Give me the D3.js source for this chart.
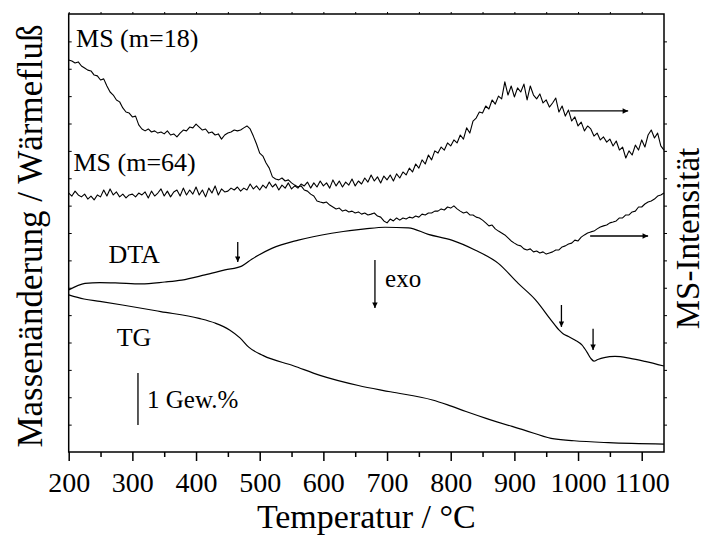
<!DOCTYPE html>
<html><head><meta charset="utf-8">
<script src="https://cdn.jsdelivr.net/npm/d3@7"></script>
<style>
body{margin:0;background:#fff}
svg{display:block}
text{font-family:"Liberation Serif","Times New Roman",serif;fill:#000}
</style>
</head><body><svg id="c" width="707" height="536"></svg>
<script>
// ---------- data (temperature in °C, signals in arbitrary units) ----------
const tempMS = d3.range(200, 1136, 5);
const ms18 = [143.2,142.8,142.1,142.5,141.0,140.3,139.5,139.2,137.7,137.4,135.9,136.3,133.7,131.5,130.4,128.6,127.9,125.7,124.2,123.8,
122.4,122.7,119.5,118.0,117.3,118.0,116.9,117.3,116.5,116.9,116.2,117.3,115.8,116.2,115.1,116.5,117.6,117.3,118.7,118.4,
119.8,118.7,117.6,118.0,116.5,116.9,115.8,116.2,114.3,115.8,116.5,116.9,117.6,117.3,117.6,118.4,119.1,118.0,115.4,112.5,
109.2,108.1,105.6,103.7,100.5,99.7,99.4,100.1,99.0,99.4,98.3,97.5,96.8,97.2,95.7,95.3,94.2,93.5,91.7,91.3,
91.0,91.3,90.2,89.5,88.8,89.1,88.0,88.4,87.7,88.0,87.3,87.7,86.9,87.3,86.6,86.9,87.3,86.2,85.8,84.4,
83.7,85.1,84.4,85.5,84.7,85.5,85.1,85.8,85.5,86.2,85.8,86.9,86.6,87.3,87.3,88.0,88.0,88.8,88.4,89.5,
89.1,89.9,88.8,88.0,87.3,87.7,86.6,86.6,85.8,85.5,84.7,83.7,82.6,82.9,81.5,80.7,80.0,79.3,78.2,77.1,
76.3,75.6,75.3,74.2,73.8,74.2,73.1,73.4,72.7,73.1,72.3,72.7,73.1,73.8,73.8,74.9,75.3,76.0,76.3,77.4,
77.1,78.5,79.3,80.0,80.4,80.7,81.5,82.2,82.6,82.9,83.7,84.0,84.4,85.5,85.5,86.6,86.6,87.7,88.0,89.5,
89.5,90.6,91.3,91.7,92.4,93.5,93.9,94.6];
const ms64 = [94.6,93.5,95.3,93.9,93.2,94.2,92.4,93.5,92.1,93.9,93.2,95.7,93.5,96.1,93.9,95.0,93.2,94.2,92.8,93.9,
94.2,93.2,94.6,93.9,95.0,92.8,95.3,93.5,94.6,96.1,93.5,95.3,93.2,95.0,95.7,93.5,96.4,93.9,95.7,94.2,
96.8,93.9,95.7,93.2,96.4,94.6,97.2,93.9,96.1,95.0,95.3,96.4,95.7,96.8,95.3,96.4,95.7,97.9,96.1,97.2,
95.7,97.5,96.4,98.6,96.8,97.9,95.7,97.5,96.4,98.3,96.1,97.2,96.4,97.9,97.2,98.6,96.4,98.3,96.8,99.0,
97.2,98.3,96.4,99.4,97.2,99.0,96.8,98.6,97.5,99.7,97.2,99.0,97.9,100.1,98.6,101.2,99.0,100.5,98.3,100.8,
99.4,101.2,99.0,101.6,100.1,102.3,101.2,103.7,102.3,105.2,103.7,106.7,105.2,108.5,106.7,110.0,109.2,111.4,110.3,112.9,
111.8,114.0,112.9,115.8,114.3,118.4,116.5,120.9,122.0,124.2,123.8,126.4,125.3,128.6,127.1,130.0,129.0,135.2,130.4,133.7,
129.7,133.0,131.5,134.4,128.6,133.7,130.4,129.0,130.8,127.5,128.6,126.0,127.5,129.3,124.2,126.4,122.7,124.9,120.9,122.4,
119.1,120.5,117.3,119.1,118.0,115.4,116.5,114.0,115.1,113.2,114.3,111.8,113.6,110.3,111.4,107.4,110.0,108.5,112.1,110.3,
114.0,111.4,115.8,117.6,114.7,116.5,111.8,110.3];
const dtaT = [200,225.6,249,273,314,351,377.5,414,445.5,471.7,487.4,519,560.6,613,665.4,696.8,733.4,764.8,801.6,838,
874.8,906,933.5,957.6,970,977,985,995,1006,1014,1020,1025,1031,1041,1058,1082,1105,1135];
const dtaV = [59.2,61.6,61.9,61.8,61.4,62.1,62.8,64.7,66.5,67.9,70.4,74.4,77.4,79.9,81.5,82.1,81.9,79.5,77.4,73.8,
68.9,61.6,55.5,48.2,44.6,43.1,42.2,40.9,39.1,36.5,34.2,33.2,33.8,34.5,34.9,34.2,33.1,31.4];
const tgT = [200,224,249,284.3,344.5,404.7,429.8,452.7,469,482.7,505.7,552.8,594.7,654.9,705.1,771.3,795.3,824,855.5,915.5,
957.6,993.6,1047.7,1135];
const tgV = [57.4,55.9,55.0,53.7,51.3,48.8,47.1,44.6,41.7,38.3,35.2,31.5,28.0,24.3,22.0,19.0,17.2,14.8,12.3,8.0,
5.0,4.1,3.4,2.9];
const xTicks = d3.range(200, 1101, 50);
const xTickLabels = [200,300,400,500,600,700,800,900,1000,1100];
const yTicks = d3.range(10, 151, 10);
// annotations [T, value]
const dtaMarks = [[465.5, 76.7, 69.4],[973.9, 53.7, 45.7],[1023.6, 45.0, 37.3]];
const exoArrow = [681, 70.1, 52.6];
const msArrows = [[987.6, 1078.7, 124.6],[1019, 1110, 78.9]];
const scaleBar = [308.8, 28.9, 9.9];
const labels = [
  {t:"MS (m=18)", T:211.5, v:148.1, s:26},
  {t:"MS (m=64)", T:207.5, v:102.5, s:26},
  {t:"DTA", T:262.5, v:68.9, s:26},
  {t:"TG", T:275.4, v:38.7, s:26},
  {t:"1 Gew.%", T:323, v:16.1, s:25},
  {t:"exo", T:696.9, v:60.3, s:25}
];

// ---------- drawing ----------
const svg = d3.select("#c");
const x = d3.scaleLinear().domain([200, 1135]).range([68.7, 664]);
const y = d3.scaleLinear().domain([0, 160]).range([452, 14]);

svg.append("defs").append("marker").attr("id","ah").attr("viewBox","0 0 10 10")
  .attr("refX",10).attr("refY",5).attr("markerWidth",9).attr("markerHeight",5.5)
  .attr("markerUnits","userSpaceOnUse").attr("orient","auto")
  .append("path").attr("d","M0,0L10,5L0,10Z").attr("fill","#000");

// frame
svg.append("rect").attr("x", x(200)).attr("y", y(160))
  .attr("width", x(1135)-x(200)).attr("height", y(0)-y(160))
  .attr("fill","none").attr("stroke","#000").attr("stroke-width",1.5);

// bottom axis
const gB = svg.append("g").attr("transform",`translate(0,${y(0)})`)
  .call(d3.axisBottom(x).tickValues(xTicks).tickSize(9).tickSizeOuter(0)
     .tickFormat(d => xTickLabels.includes(d) ? d : ""));
gB.select(".domain").remove();
gB.selectAll(".tick line").attr("stroke-width",1.5)
  .attr("y2", d => xTickLabels.includes(d) ? 9 : 5);
gB.selectAll(".tick text").attr("y",39.5).attr("dy",0)
  .style("font-size","28px").style("font-family","'Liberation Serif','Times New Roman',serif");

// top axis small ticks
const gT = svg.append("g").attr("transform",`translate(0,${y(160)})`)
  .call(d3.axisTop(x).tickValues(xTicks).tickSize(2).tickSizeOuter(0).tickFormat(""));
gT.select(".domain").remove();
// left axis small ticks (inward)
const gL = svg.append("g").attr("transform",`translate(${x(200)},0)`)
  .call(d3.axisLeft(y).tickValues(yTicks).tickSize(-3).tickSizeOuter(0).tickFormat(""));
gL.select(".domain").remove();
// right axis small ticks (outward)
const gR = svg.append("g").attr("transform",`translate(${x(1135)},0)`)
  .call(d3.axisRight(y).tickValues(yTicks).tickSize(3).tickSizeOuter(0).tickFormat(""));
gR.select(".domain").remove();

// curves
const lineLin = d3.line().x(d=>x(d[0])).y(d=>y(d[1]));
const lineSm = d3.line().x(d=>x(d[0])).y(d=>y(d[1])).curve(d3.curveMonotoneX);
const curves = [
  {pts: tempMS.map((t,i)=>[t, ms18[i]]), g: lineLin, w:1.1},
  {pts: tempMS.map((t,i)=>[t, ms64[i]]), g: lineLin, w:1.1},
  {pts: dtaT.map((t,i)=>[t, dtaV[i]]), g: lineSm, w:1.2},
  {pts: tgT.map((t,i)=>[t, tgV[i]]), g: lineSm, w:1.2}
];
curves.forEach(c => svg.append("path").attr("d", c.g(c.pts.filter(p=>p[1]!==undefined)))
  .attr("fill","none").attr("stroke","#000").attr("stroke-width",c.w).attr("stroke-linejoin","round"));

// DTA marker arrows
dtaMarks.forEach(a => svg.append("line").attr("x1",x(a[0])).attr("x2",x(a[0]))
  .attr("y1",y(a[1])).attr("y2",y(a[2])).attr("stroke","#000").attr("stroke-width",1.3)
  .attr("marker-end","url(#ah)"));
svg.append("line").attr("x1",x(exoArrow[0])).attr("x2",x(exoArrow[0]))
  .attr("y1",y(exoArrow[1])).attr("y2",y(exoArrow[2])).attr("stroke","#000").attr("stroke-width",1.3)
  .attr("marker-end","url(#ah)");
msArrows.forEach(a => svg.append("line").attr("x1",x(a[0])).attr("x2",x(a[1]))
  .attr("y1",y(a[2])).attr("y2",y(a[2])).attr("stroke","#000").attr("stroke-width",1.3)
  .attr("marker-end","url(#ah)"));
// scale bar
svg.append("line").attr("x1",x(scaleBar[0])).attr("x2",x(scaleBar[0]))
  .attr("y1",y(scaleBar[1])).attr("y2",y(scaleBar[2])).attr("stroke","#000").attr("stroke-width",1.3);

// labels
labels.forEach(l => svg.append("text").attr("x",x(l.T)).attr("y",y(l.v))
  .style("font-size",l.s+"px").text(l.t));

// axis titles
svg.append("text").attr("x",(x(200)+x(1135))/2).attr("y",528).attr("text-anchor","middle")
  .style("font-size","34px").text("Temperatur / °C");
svg.append("text").attr("transform","translate(41.5,236) rotate(-90)").attr("text-anchor","middle")
  .style("font-size","35px").text("Massenänderung / Wärmefluß");
svg.append("text").attr("transform","translate(699,238.5) rotate(-90)").attr("text-anchor","middle")
  .style("font-size","33px").text("MS-Intensität");
</script>
</body></html>
